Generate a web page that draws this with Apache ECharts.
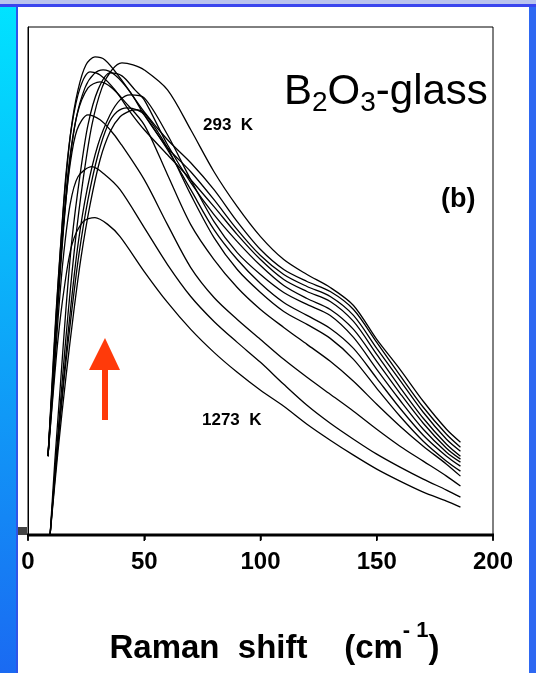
<!DOCTYPE html>
<html><head><meta charset="utf-8">
<script src="https://cdn.jsdelivr.net/npm/echarts@6/dist/echarts.min.js"></script>
<style>html,body{margin:0;padding:0;background:#fff}#c{width:536px;height:673px}</style>
</head><body><div id="c"></div>
<script>
// x: Raman shift (cm^-1); y: intensity (arb. units, unlabeled axis)
const xTicks = [0, 50, 100, 150, 200];
const yMax = 509;

const c293K = [[9.5,0],[12.0,76],[14.6,151],[17.2,221],[20.2,291],[23.7,356],[27.5,411],[31.8,448],[36.1,466],[40.4,473],[45.2,471],[50,466],[60,446],[70,406],[80,364],[90,329],[100,299],[110,276],[120,261],[130,248],[140,230],[150,196],[160,166],[170,134],[180,106],[186,93]];
const cB = [[8.6,79],[10.3,146],[12.0,216],[13.8,281],[15.9,346],[18.5,406],[21.5,446],[24.9,471],[28.8,479],[33.1,476],[39.6,458],[50,424],[60,396],[70,373],[80,346],[90,314],[100,286],[110,266],[120,254],[130,244],[140,226],[150,193],[160,160],[170,128],[180,101],[186,88]];
const cC = [[8.6,79],[10.8,156],[12.9,231],[15.1,301],[17.6,366],[20.6,416],[24.5,448],[28.4,462],[32.3,466],[37.4,461],[43.9,444],[50,421],[60,388],[70,364],[80,336],[90,306],[100,280],[110,261],[120,249],[130,239],[140,220],[150,187],[160,155],[170,123],[180,96],[186,84]];
const cD = [[8.6,79],[10.3,151],[12.0,221],[14.2,296],[16.3,361],[18.9,411],[22.4,448],[26.7,464],[31.0,461],[37.4,446],[43.9,424],[50,406],[60,381],[70,356],[80,329],[90,301],[100,276],[110,256],[120,244],[130,234],[140,214],[150,181],[160,148],[170,117],[180,91],[186,79]];
const cE = [[9.5,0],[11.6,76],[13.8,146],[16.3,226],[18.9,296],[22.4,361],[25.8,411],[30.1,446],[35.3,463],[40.4,460],[46.0,446],[50,436],[60,391],[70,353],[80,321],[90,294],[100,270],[110,250],[120,237],[130,226],[140,206],[150,174],[160,142],[170,112],[180,87],[186,76]];
const cF = [[9.5,0],[12.5,86],[15.5,161],[18.5,231],[21.5,291],[25.4,346],[30.1,391],[35.3,421],[39.6,436],[43.9,441],[50,438],[60,401],[70,356],[80,314],[90,283],[100,261],[110,243],[120,231],[130,220],[140,198],[150,166],[160,135],[170,106],[180,83],[186,73]];
const cG = [[9.5,0],[12.5,81],[15.5,156],[18.9,226],[21.9,281],[25.8,336],[30.1,381],[34.4,411],[38.3,424],[42.6,428],[46.9,426],[50,421],[60,386],[70,346],[80,306],[90,276],[100,252],[110,233],[120,220],[130,207],[140,187],[150,157],[160,127],[170,100],[180,79],[186,69]];
const cH = [[9.5,0],[12.9,84],[16.3,158],[19.8,226],[22.8,278],[26.7,331],[31.0,376],[35.3,404],[39.6,419],[43.9,425],[46.9,426],[50,423],[60,388],[70,341],[80,298],[90,266],[100,243],[110,224],[120,211],[130,197],[140,176],[150,147],[160,119],[170,94],[180,74],[186,64]];
const cI = [[8.6,79],[10.8,158],[12.9,236],[15.1,308],[17.6,371],[21.1,421],[25.8,448],[31.0,454],[36.1,448],[41.7,434],[50,411],[60,361],[70,311],[80,276],[90,248],[100,226],[110,208],[120,191],[130,174],[140,154],[150,131],[160,109],[170,89],[180,71],[186,59]];
const cJ = [[8.6,79],[10.8,161],[12.9,241],[15.5,316],[18.1,371],[21.1,406],[25.8,421],[31.0,416],[35.3,406],[39.6,393],[50,356],[60,311],[70,268],[80,238],[90,216],[100,196],[110,176],[120,158],[130,141],[140,124],[150,106],[160,89],[170,74],[180,59],[186,49]];
const cK = [[8.6,79],[10.8,146],[12.9,216],[15.1,276],[18.1,331],[21.5,359],[27.5,369],[33.1,361],[39.6,346],[50,308],[60,271],[70,239],[80,214],[90,193],[100,173],[110,151],[120,130],[130,112],[140,96],[150,81],[160,68],[170,56],[180,45],[186,38]];
const c1273K = [[8.6,79],[10.8,141],[12.9,196],[15.5,246],[18.9,291],[23.7,314],[28.8,318],[34.4,311],[39.6,299],[50,264],[60,233],[70,206],[80,183],[90,163],[100,145],[110,129],[120,111],[130,95],[140,80],[150,66],[160,54],[170,43],[180,34],[186,28]];

const curves = [c293K, cB, cC, cD, cE, cF, cG, cH, cI, cJ, cK, c1273K];

const chart = echarts.init(document.getElementById('c'), null, {renderer: 'canvas'});
const FONT = '"Liberation Sans", Arial, Helvetica, sans-serif';

const series = curves.map(d => ({
  type: 'line', data: d, showSymbol: false, smooth: 0.3, silent: true,
  lineStyle: {color: '#000', width: 1.3}, z: 3
}));

const baseGraphic = [
  {type: 'rect', z: -10, shape: {x: 0, y: 0, width: 536, height: 673},
   style: {fill: new echarts.graphic.LinearGradient(0, 0, 0, 1, [{offset: 0, color: '#00e4ff'}, {offset: 1, color: '#1a6af2'}])}},
  {type: 'rect', z: -9, shape: {x: 0, y: 0, width: 536, height: 4}, style: {fill: '#b9c3ee'}},
  {type: 'rect', z: -9, shape: {x: 0, y: 4, width: 536, height: 3}, style: {fill: '#3a45ee'}},
  {type: 'rect', z: -9, shape: {x: 16, y: 7, width: 2, height: 666}, style: {fill: '#2f55e8'}},
  {type: 'rect', z: -9, shape: {x: 529, y: 7, width: 7, height: 666}, style: {fill: '#2e68f2'}},
  {type: 'rect', z: -8, shape: {x: 18, y: 7, width: 511, height: 666}, style: {fill: '#ffffff'}},
  {type: 'rect', z: 5, shape: {x: 18, y: 527, width: 9, height: 8}, style: {fill: '#444'}},
  {type: 'text', z: 10, left: 284, top: 71,
   style: {text: '{b|B}{s|2}{b|O}{s|3}{b|-glass}', font: '42px ' + FONT,
     rich: {b: {fontSize: 42, fontFamily: FONT, lineHeight: 50, fill: '#000'},
            s: {fontSize: 28, fontFamily: FONT, lineHeight: 28, verticalAlign: 'bottom', fill: '#000'}}}},
  {type: 'text', z: 10, left: 203, top: 117, style: {text: '293  K', font: 'bold 17px ' + FONT, fill: '#000'}},
  {type: 'text', z: 10, left: 441, top: 186, style: {text: '(b)', font: 'bold 27px ' + FONT, fill: '#000'}},
  {type: 'text', z: 10, left: 202, top: 412, style: {text: '1273  K', font: 'bold 17px ' + FONT, fill: '#000'}},
  {type: 'polygon', z: 10, shape: {points: [[105,338],[120,370],[108,370],[108,420],[102,420],[102,370],[89,370]]}, style: {fill: '#ff3a0a'}}
];

chart.setOption({
  animation: false,
  backgroundColor: 'transparent',
  graphic: baseGraphic,
  grid: {left: 28, right: 43, top: 27, bottom: 138, containLabel: false, outerBoundsMode: 'none',
         show: true, borderColor: '#000', borderWidth: 1, backgroundColor: 'transparent'},
  xAxis: {
    type: 'value', min: xTicks[0], max: xTicks[xTicks.length - 1], interval: 50,
    axisLine: {show: true, onZero: false, lineStyle: {color: '#000', width: 2}},
    axisTick: {show: true, length: 5, lineStyle: {color: '#000', width: 1.5}},
    splitLine: {show: false},
    axisLabel: {color: '#000', fontSize: 24, fontWeight: 'bold', fontFamily: FONT, margin: 15},
    name: '{b|Raman  shift    (cm}{s|- 1}{b|)}',
    nameLocation: 'middle', nameGap: 85,
    nameTextStyle: {padding: [0, 0, 0, 28],
      rich: {b: {fontSize: 33, fontWeight: 'bold', fontFamily: FONT, color: '#000', lineHeight: 58},
             s: {fontSize: 22, fontWeight: 'bold', fontFamily: FONT, color: '#000', lineHeight: 22, verticalAlign: 'top'}}}
  },
  yAxis: {
    type: 'value', min: 0, max: yMax,
    axisLine: {show: true, lineStyle: {color: '#000', width: 1}},
    axisTick: {show: false}, axisLabel: {show: false}, splitLine: {show: false}
  },
  series: series
});

// Reinforce the bottom axis line and its ticks, positioned through the axis scale
const pL = chart.convertToPixel({gridIndex: 0}, [xTicks[0], 0]);
const pR = chart.convertToPixel({gridIndex: 0}, [xTicks[xTicks.length - 1], 0]);
const extra = [{type: 'rect', z: 20, shape: {x: pL[0] - 1, y: pL[1] - 1.5, width: pR[0] - pL[0] + 2, height: 3}, style: {fill: '#000'}}];
xTicks.forEach(t => {
  const p = chart.convertToPixel({gridIndex: 0}, [t, 0]);
  extra.push({type: 'rect', z: 20, shape: {x: p[0] - 0.75, y: p[1], width: 1.5, height: 6}, style: {fill: '#000'}});
});
chart.setOption({graphic: baseGraphic.concat(extra)});
</script></body></html>
